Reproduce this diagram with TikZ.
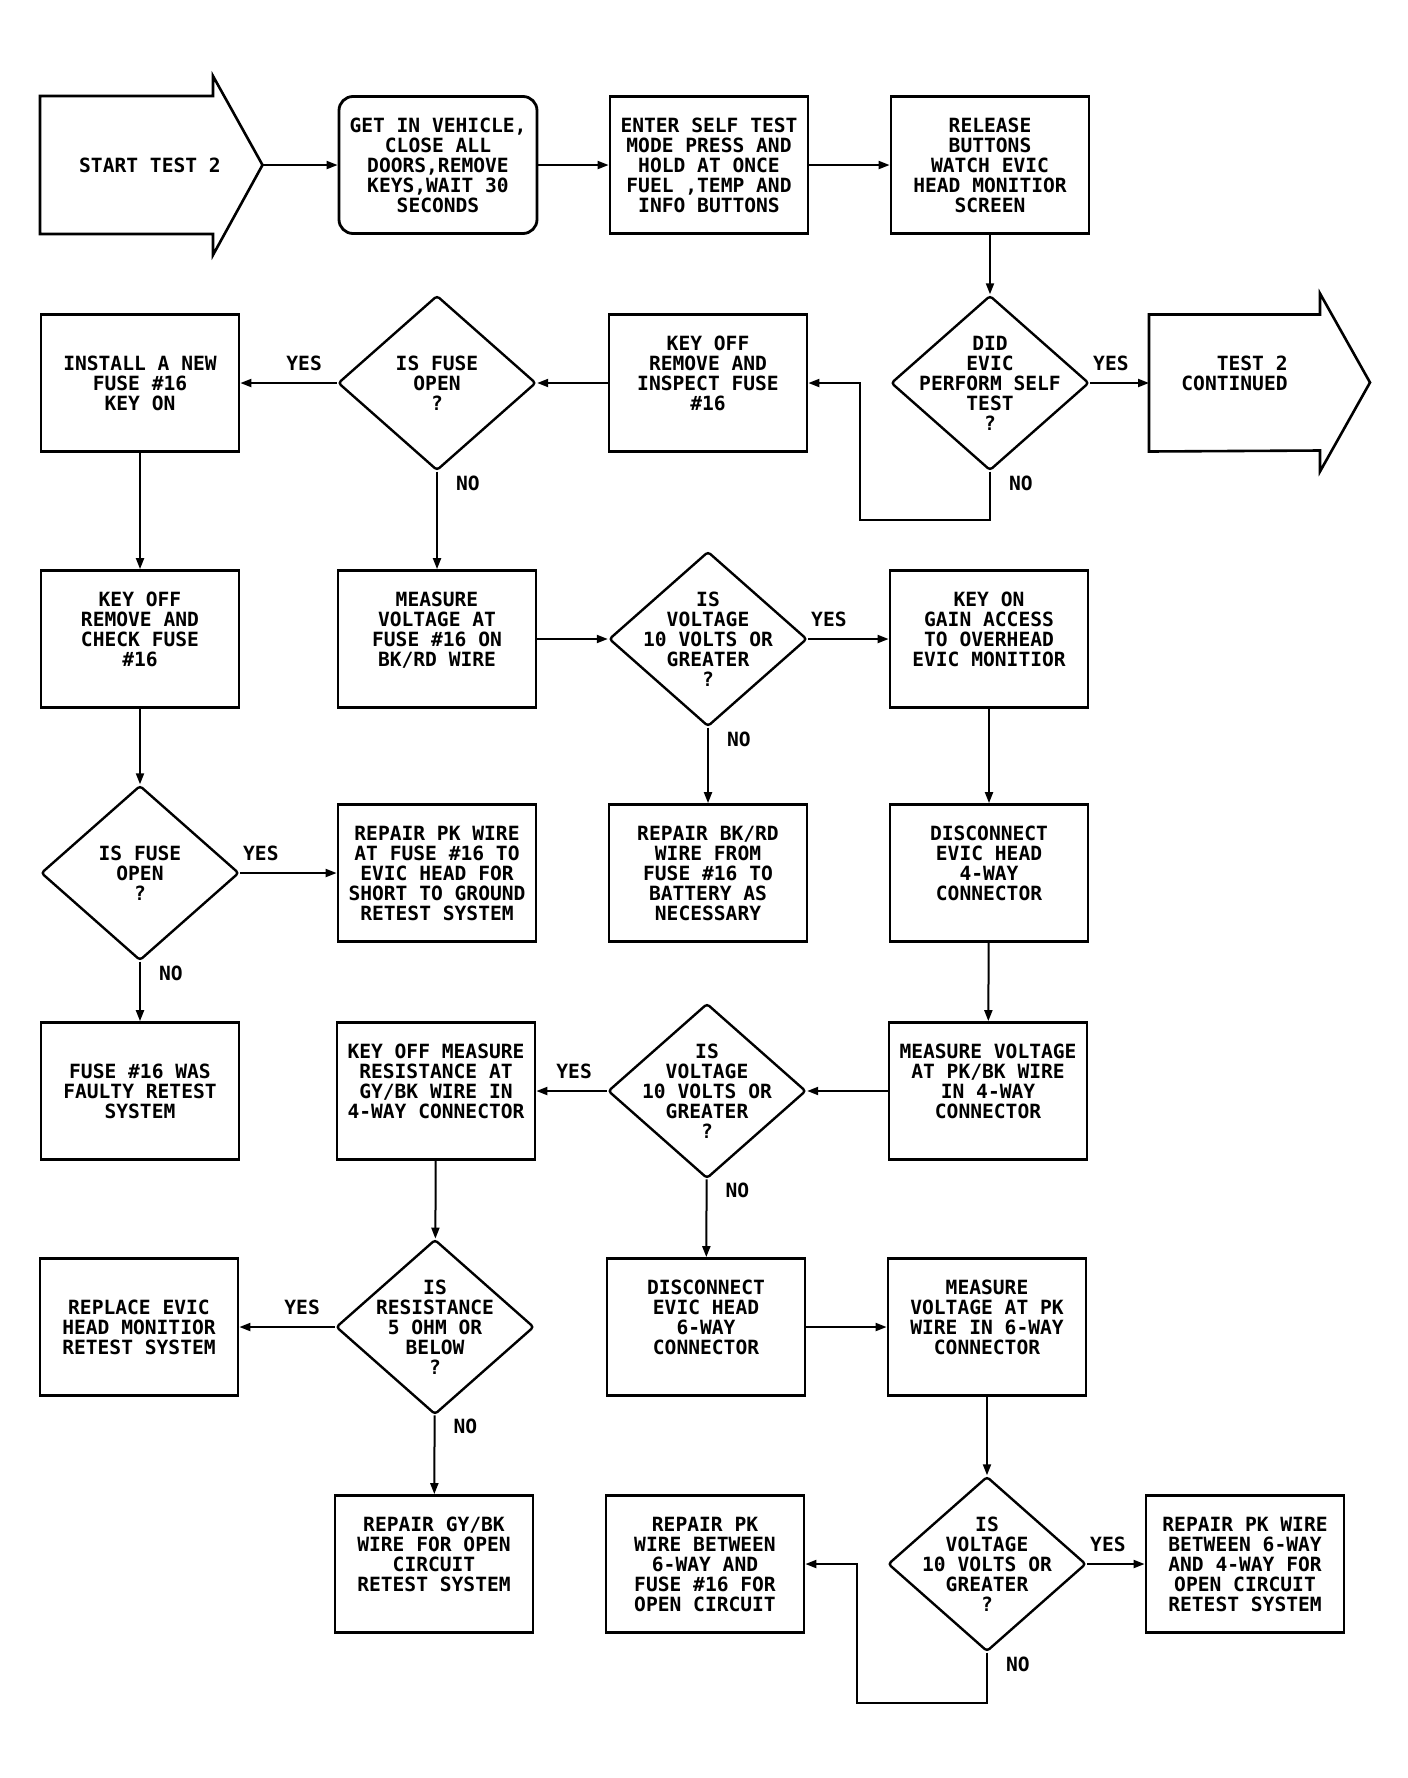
\documentclass[tikz,border=0pt]{standalone}
\usepackage{fontspec}
\newfontfamily\plotfont{DejaVu Sans Mono}
\usetikzlibrary{shapes.geometric,arrows.meta}

\begin{document}
\begin{tikzpicture}[x=1pt, y=-1pt,
	every node/.style = {font={\plotfont\bfseries\fontsize{19.6}{20}\selectfont}, align=center},
	box/.style = {draw, line width=2.8pt, minimum width=198pt, minimum height=137pt, inner sep=0pt},
	rbox/.style = {box, rounded corners=14pt},
	decision/.style = {draw, diamond, line width=2.4pt, minimum width=198pt, minimum height=175pt, inner xsep=-35pt, inner ysep=-25pt, rounded corners=3pt},
	arrowbody/.style = {minimum height=137pt, inner sep=0pt, outer sep=0pt},
	outline/.style = {line width=2.6pt},
	arr/.style = {line width=2pt, -{Triangle[length=11pt,width=8pt]}},
	yesr/.style = {inner sep=0pt, anchor=south west, at start, xshift=2pt, yshift=11pt},
	yesl/.style = {inner sep=0pt, anchor=south east, at start, xshift=-14pt, yshift=11pt},
	no/.style = {inner sep=0pt, anchor=north west, at start, xshift=18pt, yshift=-3pt},]
	
	\fill[white] (0,0) rectangle (1408,1778);
	
	% row 1
	\node[arrowbody, minimum width=225pt] (start) at (150,165) {START TEST 2};
	\draw[outline] (40,234) -- (40,96) -- (213,96) -- (213,76) -- (start.east) -- (213,255) -- (213,234) -- cycle;
	\node[rbox] (getin) at (438,165) {GET IN VEHICLE,\\CLOSE ALL\\DOORS,REMOVE\\KEYS,WAIT 30\\SECONDS};
	\node[box] (enter) at (709,165) {ENTER SELF TEST\\MODE PRESS AND\\HOLD AT ONCE\\FUEL ,TEMP AND\\INFO BUTTONS};
	\node[box] (release) at (990,165) {RELEASE\\BUTTONS\\WATCH EVIC\\HEAD MONITIOR\\SCREEN};
	
	% row 2
	\node[box] (install) at (140,383) {INSTALL A NEW\\FUSE \#16\\KEY ON};
	\node[decision] (fuse1) at (437,383) {IS FUSE\\OPEN\\?};
	\node[box] (inspect) at (708,383) {KEY OFF\\REMOVE AND\\INSPECT FUSE\\\#16\\\mbox{}};
	\node[decision] (did) at (990,383) {DID\\EVIC\\PERFORM SELF\\TEST\\?};
	\node[arrowbody, minimum width=171pt, align=right] (test2) at (1234.5,383) {TEST 2\\CONTINUED\\\mbox{}};
	\draw[outline] (test2.south west) -- (test2.north west) -- (test2.north east) -- ++(0,-21) -- ++(50,89) -- ++(-50,89) -- ++(0,-21) -- cycle;
	
	% row 3
	\node[box] (check) at (140,639) {KEY OFF\\REMOVE AND\\CHECK FUSE\\\#16\\\mbox{}};
	\node[box] (measure) at (437,639) {MEASURE\\VOLTAGE AT\\FUSE \#16 ON\\BK/RD WIRE\\\mbox{}};
	\node[decision] (volt1) at (708,639) {IS\\VOLTAGE\\10 VOLTS OR\\GREATER\\?};
	\node[box] (keyon) at (989,639) {KEY ON\\GAIN ACCESS\\TO OVERHEAD\\EVIC MONITIOR\\\mbox{}};
	
	% row 4
	\node[decision] (fuse2) at (140,873) {IS FUSE\\OPEN\\?};
	\node[box] (repairpk) at (437,873) {REPAIR PK WIRE\\AT FUSE \#16 TO\\EVIC HEAD FOR\\SHORT TO GROUND\\RETEST SYSTEM};
	\node[box] (repairbk) at (708,873) {REPAIR BK/RD\\WIRE FROM\\FUSE \#16 TO\\BATTERY AS\\NECESSARY};
	\node[box] (disc4) at (989,873) {DISCONNECT\\EVIC HEAD\\4-WAY\\CONNECTOR\\\mbox{}};
	
	% row 5
	\node[box] (faulty) at (140,1091) {FUSE \#16 WAS\\FAULTY RETEST\\SYSTEM};
	\node[box] (resist) at (436,1091) {KEY OFF MEASURE\\RESISTANCE AT\\GY/BK WIRE IN\\4-WAY CONNECTOR\\\mbox{}};
	\node[decision] (volt2) at (707,1091) {IS\\VOLTAGE\\10 VOLTS OR\\GREATER\\?};
	\node[box] (measpk4) at (988,1091) {MEASURE VOLTAGE\\AT PK/BK WIRE\\IN 4-WAY\\CONNECTOR\\\mbox{}};
	
	% row 6
	\node[box] (replace) at (139,1327) {REPLACE EVIC\\HEAD MONITIOR\\RETEST SYSTEM};
	\node[decision] (ohm) at (435,1327) {IS\\RESISTANCE\\5 OHM OR\\BELOW\\?};
	\node[box] (disc6) at (706,1327) {DISCONNECT\\EVIC HEAD\\6-WAY\\CONNECTOR\\\mbox{}};
	\node[box] (measpk6) at (987,1327) {MEASURE\\VOLTAGE AT PK\\WIRE IN 6-WAY\\CONNECTOR\\\mbox{}};
	
	% row 7
	\node[box] (repairgy) at (434,1564) {REPAIR GY/BK\\WIRE FOR OPEN\\CIRCUIT\\RETEST SYSTEM\\\mbox{}};
	\node[box] (repairpk6) at (705,1564) {REPAIR PK\\WIRE BETWEEN\\6-WAY AND\\FUSE \#16 FOR\\OPEN CIRCUIT};
	\node[decision] (volt3) at (987,1564) {IS\\VOLTAGE\\10 VOLTS OR\\GREATER\\?};
	\node[box] (repairpk4) at (1245,1564) {REPAIR PK WIRE\\BETWEEN 6-WAY\\AND 4-WAY FOR\\OPEN CIRCUIT\\RETEST SYSTEM};
	
	\coordinate (loopa) at (860,520);
	\coordinate (loopb) at (857,1703);
	
	\draw[arr] (start.east) -- (getin);
	\draw[arr] (getin) -- (enter);
	\draw[arr] (enter) -- (release);
	\draw[arr] (release) -- (did);
	\draw[arr] (did) -- node[yesr] (ydid) {YES} (test2);
	\draw[arr] (did.south) |- node[no] (ndid) {NO} (loopa) |- (inspect.east);
	\draw[arr] (inspect) -- (fuse1);
	\draw[arr] (fuse1) -- node[yesl] (yfuse1) {YES} (install);
	\draw[arr] (fuse1) -- node[no] (nfuse1) {NO} (measure);
	\draw[arr] (install) -- (check);
	\draw[arr] (check) -- (fuse2);
	\draw[arr] (fuse2) -- node[yesr] (yfuse2) {YES} (repairpk);
	\draw[arr] (fuse2) -- node[no] (nfuse2) {NO} (faulty);
	\draw[arr] (measure) -- (volt1);
	\draw[arr] (volt1) -- node[yesr] (yvolt1) {YES} (keyon);
	\draw[arr] (volt1) -- node[no] (nvolt1) {NO} (repairbk);
	\draw[arr] (keyon) -- (disc4);
	\draw[arr] (disc4) -- (measpk4);
	\draw[arr] (measpk4) -- (volt2);
	\draw[arr] (volt2) -- node[yesl] (yvolt2) {YES} (resist);
	\draw[arr] (volt2) -- node[no] (nvolt2) {NO} (disc6);
	\draw[arr] (resist) -- (ohm);
	\draw[arr] (ohm) -- node[yesl] (yohm) {YES} (replace);
	\draw[arr] (ohm) -- node[no] (nohm) {NO} (repairgy);
	\draw[arr] (disc6) -- (measpk6);
	\draw[arr] (measpk6) -- (volt3);
	\draw[arr] (volt3) -- node[yesr] (yvolt3) {YES} (repairpk4);
	\draw[arr] (volt3.south) |- node[no] (nvolt3) {NO} (loopb) |- (repairpk6.east);
	
\end{tikzpicture}
\end{document}
